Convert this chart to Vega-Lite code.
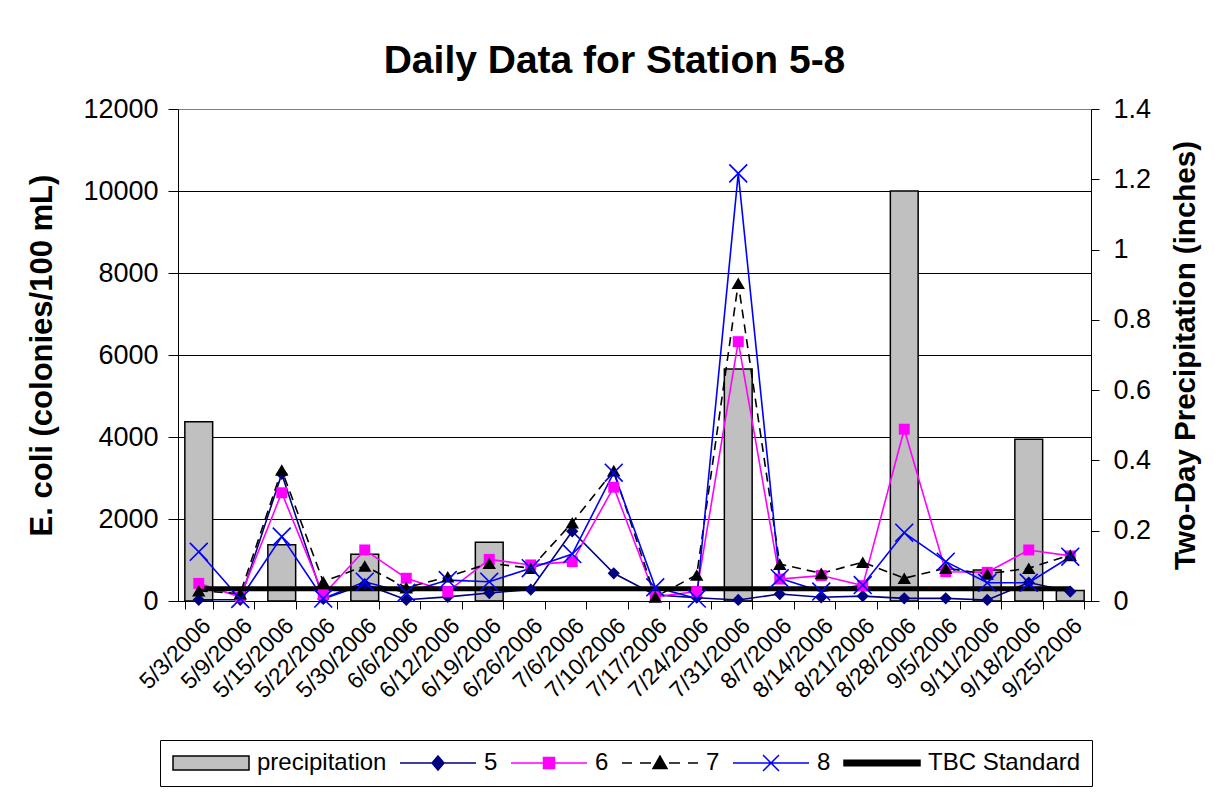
{
  "$schema": "https://vega.github.io/schema/vega-lite/v6.json",
  "width": 913,
  "height": 492,
  "autosize": {"type": "none"},
  "padding": {"left": 178, "top": 109, "right": 124, "bottom": 205},
  "background": "white",
  "title": {"text": "Daily Data for Station 5-8", "fontSize": 39, "fontWeight": "bold", "font": "Liberation Sans", "color": "black", "anchor": "middle", "dx": -20, "offset": 14},
  "config": {
    "font": "Liberation Sans",
    "view": {"stroke": null},
    "axis": {"labelFont": "Liberation Sans", "titleFont": "Liberation Sans", "labelColor": "black", "titleColor": "black", "domainColor": "black", "tickColor": "black", "gridColor": "black", "domainWidth": 1, "tickWidth": 1, "gridWidth": 1, "titleFontWeight": "bold"}
  },
  "datasets": {
    "ecoli": [
      {"date": "5/3/2006", "series": "5", "ecoli": 30}, {"date": "5/9/2006", "series": "5", "ecoli": 30}, {"date": "5/15/2006", "series": "5", "ecoli": 3100}, {"date": "5/22/2006", "series": "5", "ecoli": 50}, {"date": "5/30/2006", "series": "5", "ecoli": 410}, {"date": "6/6/2006", "series": "5", "ecoli": 30}, {"date": "6/12/2006", "series": "5", "ecoli": 100}, {"date": "6/19/2006", "series": "5", "ecoli": 195}, {"date": "6/26/2006", "series": "5", "ecoli": 280}, {"date": "7/6/2006", "series": "5", "ecoli": 1700}, {"date": "7/10/2006", "series": "5", "ecoli": 675}, {"date": "7/17/2006", "series": "5", "ecoli": 150}, {"date": "7/24/2006", "series": "5", "ecoli": 80}, {"date": "7/31/2006", "series": "5", "ecoli": 25}, {"date": "8/7/2006", "series": "5", "ecoli": 170}, {"date": "8/14/2006", "series": "5", "ecoli": 90}, {"date": "8/21/2006", "series": "5", "ecoli": 120}, {"date": "8/28/2006", "series": "5", "ecoli": 65}, {"date": "9/5/2006", "series": "5", "ecoli": 65}, {"date": "9/11/2006", "series": "5", "ecoli": 25}, {"date": "9/18/2006", "series": "5", "ecoli": 450}, {"date": "9/25/2006", "series": "5", "ecoli": 230},
      {"date": "5/3/2006", "series": "6", "ecoli": 430}, {"date": "5/9/2006", "series": "6", "ecoli": 100}, {"date": "5/15/2006", "series": "6", "ecoli": 2640}, {"date": "5/22/2006", "series": "6", "ecoli": 150}, {"date": "5/30/2006", "series": "6", "ecoli": 1245}, {"date": "6/6/2006", "series": "6", "ecoli": 555}, {"date": "6/12/2006", "series": "6", "ecoli": 230}, {"date": "6/19/2006", "series": "6", "ecoli": 1015}, {"date": "6/26/2006", "series": "6", "ecoli": 880}, {"date": "7/6/2006", "series": "6", "ecoli": 960}, {"date": "7/10/2006", "series": "6", "ecoli": 2775}, {"date": "7/17/2006", "series": "6", "ecoli": 105}, {"date": "7/24/2006", "series": "6", "ecoli": 230}, {"date": "7/31/2006", "series": "6", "ecoli": 6325}, {"date": "8/7/2006", "series": "6", "ecoli": 535}, {"date": "8/14/2006", "series": "6", "ecoli": 620}, {"date": "8/21/2006", "series": "6", "ecoli": 375}, {"date": "8/28/2006", "series": "6", "ecoli": 4190}, {"date": "9/5/2006", "series": "6", "ecoli": 715}, {"date": "9/11/2006", "series": "6", "ecoli": 700}, {"date": "9/18/2006", "series": "6", "ecoli": 1245}, {"date": "9/25/2006", "series": "6", "ecoli": 1100},
      {"date": "5/3/2006", "series": "7", "ecoli": 250}, {"date": "5/9/2006", "series": "7", "ecoli": 180}, {"date": "5/15/2006", "series": "7", "ecoli": 3195}, {"date": "5/22/2006", "series": "7", "ecoli": 470}, {"date": "5/30/2006", "series": "7", "ecoli": 855}, {"date": "6/6/2006", "series": "7", "ecoli": 325}, {"date": "6/12/2006", "series": "7", "ecoli": 590}, {"date": "6/19/2006", "series": "7", "ecoli": 920}, {"date": "6/26/2006", "series": "7", "ecoli": 800}, {"date": "7/6/2006", "series": "7", "ecoli": 1910}, {"date": "7/10/2006", "series": "7", "ecoli": 3180}, {"date": "7/17/2006", "series": "7", "ecoli": 100}, {"date": "7/24/2006", "series": "7", "ecoli": 635}, {"date": "7/31/2006", "series": "7", "ecoli": 7750}, {"date": "8/7/2006", "series": "7", "ecoli": 900}, {"date": "8/14/2006", "series": "7", "ecoli": 675}, {"date": "8/21/2006", "series": "7", "ecoli": 945}, {"date": "8/28/2006", "series": "7", "ecoli": 555}, {"date": "9/5/2006", "series": "7", "ecoli": 800}, {"date": "9/11/2006", "series": "7", "ecoli": 660}, {"date": "9/18/2006", "series": "7", "ecoli": 800}, {"date": "9/25/2006", "series": "7", "ecoli": 1120},
      {"date": "5/3/2006", "series": "8", "ecoli": 1200}, {"date": "5/9/2006", "series": "8", "ecoli": 50}, {"date": "5/15/2006", "series": "8", "ecoli": 1570}, {"date": "5/22/2006", "series": "8", "ecoli": 60}, {"date": "5/30/2006", "series": "8", "ecoli": 470}, {"date": "6/6/2006", "series": "8", "ecoli": 200}, {"date": "6/12/2006", "series": "8", "ecoli": 510}, {"date": "6/19/2006", "series": "8", "ecoli": 470}, {"date": "6/26/2006", "series": "8", "ecoli": 800}, {"date": "7/6/2006", "series": "8", "ecoli": 1145}, {"date": "7/10/2006", "series": "8", "ecoli": 3130}, {"date": "7/17/2006", "series": "8", "ecoli": 335}, {"date": "7/24/2006", "series": "8", "ecoli": 60}, {"date": "7/31/2006", "series": "8", "ecoli": 10430}, {"date": "8/7/2006", "series": "8", "ecoli": 555}, {"date": "8/14/2006", "series": "8", "ecoli": 230}, {"date": "8/21/2006", "series": "8", "ecoli": 390}, {"date": "8/28/2006", "series": "8", "ecoli": 1665}, {"date": "9/5/2006", "series": "8", "ecoli": 960}, {"date": "9/11/2006", "series": "8", "ecoli": 445}, {"date": "9/18/2006", "series": "8", "ecoli": 445}, {"date": "9/25/2006", "series": "8", "ecoli": 1080}
    ],
    "tbc": [
      {"date": "5/3/2006", "tbc": 300}, {"date": "5/9/2006", "tbc": 300}, {"date": "5/15/2006", "tbc": 300}, {"date": "5/22/2006", "tbc": 300}, {"date": "5/30/2006", "tbc": 300}, {"date": "6/6/2006", "tbc": 300}, {"date": "6/12/2006", "tbc": 300}, {"date": "6/19/2006", "tbc": 300}, {"date": "6/26/2006", "tbc": 300}, {"date": "7/6/2006", "tbc": 300}, {"date": "7/10/2006", "tbc": 300}, {"date": "7/17/2006", "tbc": 300}, {"date": "7/24/2006", "tbc": 300}, {"date": "7/31/2006", "tbc": 300}, {"date": "8/7/2006", "tbc": 300}, {"date": "8/14/2006", "tbc": 300}, {"date": "8/21/2006", "tbc": 300}, {"date": "8/28/2006", "tbc": 300}, {"date": "9/5/2006", "tbc": 300}, {"date": "9/11/2006", "tbc": 300}, {"date": "9/18/2006", "tbc": 300}, {"date": "9/25/2006", "tbc": 300}
    ],
    "precip": [
      {"date": "5/3/2006", "precip": 0.51}, {"date": "5/15/2006", "precip": 0.16}, {"date": "5/30/2006", "precip": 0.133}, {"date": "6/19/2006", "precip": 0.167}, {"date": "7/31/2006", "precip": 0.66}, {"date": "8/28/2006", "precip": 1.167}, {"date": "9/11/2006", "precip": 0.088}, {"date": "9/18/2006", "precip": 0.46}, {"date": "9/25/2006", "precip": 0.03}
    ]
  },
  "layer": [
    {
      "data": {"name": "precip"},
      "mark": {"type": "bar", "fill": "#c0c0c0", "stroke": "black", "strokeWidth": 1.5},
      "encoding": {
        "x": {"field": "date", "type": "ordinal", "title": null,
              "scale": {"type": "band", "domain": ["5/3/2006","5/9/2006","5/15/2006","5/22/2006","5/30/2006","6/6/2006","6/12/2006","6/19/2006","6/26/2006","7/6/2006","7/10/2006","7/17/2006","7/24/2006","7/31/2006","8/7/2006","8/14/2006","8/21/2006","8/28/2006","9/5/2006","9/11/2006","9/18/2006","9/25/2006"], "paddingInner": 0.33, "paddingOuter": 0.165},
              "axis": {"labelAngle": -45, "labelFontSize": 23, "labelPadding": 5, "tickBand": "extent", "tickSize": 8, "domain": true, "grid": false}},
        "y": {"field": "precip", "type": "quantitative", "scale": {"domain": [0, 1.4], "nice": false},
              "axis": {"orient": "right", "title": "Two-Day Precipitation (inches)", "titleFontSize": 29.5, "titleAngle": 270, "titlePadding": 50, "labelFontSize": 27, "labelPadding": 14, "tickSize": 8, "values": [0, 0.2, 0.4, 0.6, 0.8, 1, 1.2, 1.4], "format": "~g", "grid": false}}
      }
    },
    {
      "layer": [
        {
          "data": {"name": "ecoli"},
          "transform": [{"filter": "datum.series === '5'"}],
          "mark": {"type": "line", "color": "#000080", "strokeWidth": 1.6},
          "encoding": {
            "x": {"field": "date", "type": "ordinal", "title": null},
            "y": {"field": "ecoli", "type": "quantitative", "scale": {"domain": [0, 12000], "nice": false}, "title": "E. coli (colonies/100 mL)", "axis": {"orient": "left", "titleFontSize": 31, "titlePadding": 24, "labelFontSize": 27, "labelPadding": 10, "tickSize": 10, "values": [0, 2000, 4000, 6000, 8000, 10000, 12000], "format": "d", "grid": true, "gridColor": {"condition": {"test": "datum.value === 12000", "value": "#808080"}, "value": "black"}}}
          }
        },
        {
          "data": {"name": "ecoli"},
          "transform": [{"filter": "datum.series === '6'"}],
          "mark": {"type": "line", "color": "#ff00ff", "strokeWidth": 1.6},
          "encoding": {"x": {"field": "date", "type": "ordinal", "title": null}, "y": {"field": "ecoli", "type": "quantitative", "title": "E. coli (colonies/100 mL)", "axis": {"orient": "left", "titleFontSize": 31, "titlePadding": 24, "labelFontSize": 27, "labelPadding": 10, "tickSize": 10, "values": [0, 2000, 4000, 6000, 8000, 10000, 12000], "format": "d", "grid": true, "gridColor": {"condition": {"test": "datum.value === 12000", "value": "#808080"}, "value": "black"}}}}
        },
        {
          "data": {"name": "ecoli"},
          "transform": [{"filter": "datum.series === '7'"}],
          "mark": {"type": "line", "color": "#000000", "strokeWidth": 1.6, "strokeDash": [9, 6]},
          "encoding": {"x": {"field": "date", "type": "ordinal", "title": null}, "y": {"field": "ecoli", "type": "quantitative", "title": "E. coli (colonies/100 mL)", "axis": {"orient": "left", "titleFontSize": 31, "titlePadding": 24, "labelFontSize": 27, "labelPadding": 10, "tickSize": 10, "values": [0, 2000, 4000, 6000, 8000, 10000, 12000], "format": "d", "grid": true, "gridColor": {"condition": {"test": "datum.value === 12000", "value": "#808080"}, "value": "black"}}}}
        },
        {
          "data": {"name": "ecoli"},
          "transform": [{"filter": "datum.series === '8'"}],
          "mark": {"type": "line", "color": "#0000ff", "strokeWidth": 1.6},
          "encoding": {"x": {"field": "date", "type": "ordinal", "title": null}, "y": {"field": "ecoli", "type": "quantitative", "title": "E. coli (colonies/100 mL)", "axis": {"orient": "left", "titleFontSize": 31, "titlePadding": 24, "labelFontSize": 27, "labelPadding": 10, "tickSize": 10, "values": [0, 2000, 4000, 6000, 8000, 10000, 12000], "format": "d", "grid": true, "gridColor": {"condition": {"test": "datum.value === 12000", "value": "#808080"}, "value": "black"}}}}
        },
        {
          "data": {"name": "tbc"},
          "mark": {"type": "line", "color": "#000000", "strokeWidth": 5},
          "encoding": {"x": {"field": "date", "type": "ordinal", "title": null}, "y": {"field": "tbc", "type": "quantitative", "title": "E. coli (colonies/100 mL)", "axis": {"orient": "left", "titleFontSize": 31, "titlePadding": 24, "labelFontSize": 27, "labelPadding": 10, "tickSize": 10, "values": [0, 2000, 4000, 6000, 8000, 10000, 12000], "format": "d", "grid": true, "gridColor": {"condition": {"test": "datum.value === 12000", "value": "#808080"}, "value": "black"}}}}
        },
        {
          "data": {"name": "ecoli"},
          "transform": [{"filter": "datum.series === '5'"}],
          "mark": {"type": "point", "shape": "diamond", "filled": true, "color": "#000080", "size": 150, "opacity": 1},
          "encoding": {"x": {"field": "date", "type": "ordinal", "title": null}, "y": {"field": "ecoli", "type": "quantitative", "title": "E. coli (colonies/100 mL)", "axis": {"orient": "left", "titleFontSize": 31, "titlePadding": 24, "labelFontSize": 27, "labelPadding": 10, "tickSize": 10, "values": [0, 2000, 4000, 6000, 8000, 10000, 12000], "format": "d", "grid": true, "gridColor": {"condition": {"test": "datum.value === 12000", "value": "#808080"}, "value": "black"}}}}
        },
        {
          "data": {"name": "ecoli"},
          "transform": [{"filter": "datum.series === '6'"}],
          "mark": {"type": "point", "shape": "square", "filled": true, "color": "#ff00ff", "size": 120, "opacity": 1},
          "encoding": {"x": {"field": "date", "type": "ordinal", "title": null}, "y": {"field": "ecoli", "type": "quantitative", "title": "E. coli (colonies/100 mL)", "axis": {"orient": "left", "titleFontSize": 31, "titlePadding": 24, "labelFontSize": 27, "labelPadding": 10, "tickSize": 10, "values": [0, 2000, 4000, 6000, 8000, 10000, 12000], "format": "d", "grid": true, "gridColor": {"condition": {"test": "datum.value === 12000", "value": "#808080"}, "value": "black"}}}}
        },
        {
          "data": {"name": "ecoli"},
          "transform": [{"filter": "datum.series === '7'"}],
          "mark": {"type": "point", "shape": "triangle-up", "filled": true, "color": "#000000", "size": 180, "opacity": 1},
          "encoding": {"x": {"field": "date", "type": "ordinal", "title": null}, "y": {"field": "ecoli", "type": "quantitative", "title": "E. coli (colonies/100 mL)", "axis": {"orient": "left", "titleFontSize": 31, "titlePadding": 24, "labelFontSize": 27, "labelPadding": 10, "tickSize": 10, "values": [0, 2000, 4000, 6000, 8000, 10000, 12000], "format": "d", "grid": true, "gridColor": {"condition": {"test": "datum.value === 12000", "value": "#808080"}, "value": "black"}}}}
        },
        {
          "data": {"name": "ecoli"},
          "transform": [{"filter": "datum.series === '8'"}],
          "mark": {"type": "point", "shape": "M-1,-1L1,1M-1,1L1,-1", "filled": false, "stroke": "#0000ff", "strokeWidth": 1.6, "size": 320, "opacity": 1},
          "encoding": {"x": {"field": "date", "type": "ordinal", "title": null}, "y": {"field": "ecoli", "type": "quantitative", "title": "E. coli (colonies/100 mL)", "axis": {"orient": "left", "titleFontSize": 31, "titlePadding": 24, "labelFontSize": 27, "labelPadding": 10, "tickSize": 10, "values": [0, 2000, 4000, 6000, 8000, 10000, 12000], "format": "d", "grid": true, "gridColor": {"condition": {"test": "datum.value === 12000", "value": "#808080"}, "value": "black"}}}}
        },
        {
          "data": {"name": "ecoli"},
          "mark": {"type": "point", "filled": true, "opacity": 0},
          "encoding": {
            "x": {"field": "date", "type": "ordinal", "title": null},
            "y": {"field": "ecoli", "type": "quantitative", "title": "E. coli (colonies/100 mL)", "axis": {"orient": "left", "titleFontSize": 31, "titlePadding": 24, "labelFontSize": 27, "labelPadding": 10, "tickSize": 10, "values": [0, 2000, 4000, 6000, 8000, 10000, 12000], "format": "d", "grid": true, "gridColor": {"condition": {"test": "datum.value === 12000", "value": "#808080"}, "value": "black"}}},
            "color": {"field": "series", "type": "nominal",
              "scale": {"domain": ["precipitation", "5", "6", "7", "8", "TBC Standard"], "range": ["#c0c0c0", "#000080", "#ff00ff", "#000000", "#0000ff", "#000000"]},
              "legend": {"title": null, "orient": "none", "legendX": -18, "legendY": 631, "direction": "horizontal", "columns": 6, "labelFontSize": 24, "labelFont": "Liberation Sans", "labelColor": "black", "labelLimit": 400, "labelOffset": 62, "columnPadding": 10, "symbolSize": 400, "symbolOffset": 0, "symbolStrokeWidth": 1.5, "strokeColor": "black", "padding": 11,
                "encode": {"symbols": {"update": {
                  "opacity": {"value": 1},
                  "fill": {"signal": "datum.value === 'precipitation' ? '#c0c0c0' : datum.value === '5' ? '#000080' : datum.value === '6' ? '#ff00ff' : datum.value === '8' ? 'transparent' : '#000000'"},
                  "stroke": {"signal": "datum.value === 'precipitation' ? '#000000' : datum.value === '5' ? '#000080' : datum.value === '6' ? '#ff00ff' : datum.value === '8' ? '#0000ff' : '#000000'"}
                }}}}},
            "shape": {"field": "series", "type": "nominal",
              "scale": {"domain": ["precipitation", "5", "6", "7", "8", "TBC Standard"], "range": [
                "M-1,-0.7H6.6V0.7H-1Z",
                "M-1,0H6.6M2.8,-0.7L3.4,0L2.8,0.7L2.2,0Z",
                "M-1,0H6.6M2.25,-0.55H3.35V0.55H2.25Z",
                "M-1,0H0M0.8,0H1.9M3.7,0H4.8M5.6,0H6.6M2.8,-0.7L3.5,0.55H2.1Z",
                "M-1,0H6.6M2,-0.8L3.6,0.8M2,0.8L3.6,-0.8",
                "M-1,-0.28H6.6V0.28H-1Z"]},
              "legend": {"title": null, "orient": "none", "legendX": -18, "legendY": 631, "direction": "horizontal", "columns": 6, "labelFontSize": 24, "labelFont": "Liberation Sans", "labelColor": "black", "labelLimit": 400, "labelOffset": 62, "columnPadding": 10, "symbolSize": 400, "symbolOffset": 0, "symbolStrokeWidth": 1.5, "strokeColor": "black", "padding": 11,
                "encode": {"symbols": {"update": {
                  "opacity": {"value": 1},
                  "fill": {"signal": "datum.value === 'precipitation' ? '#c0c0c0' : datum.value === '5' ? '#000080' : datum.value === '6' ? '#ff00ff' : datum.value === '8' ? 'transparent' : '#000000'"},
                  "stroke": {"signal": "datum.value === 'precipitation' ? '#000000' : datum.value === '5' ? '#000080' : datum.value === '6' ? '#ff00ff' : datum.value === '8' ? '#0000ff' : '#000000'"}
                }}}}}
          }
        }
      ]
    }
  ],
  "resolve": {"scale": {"y": "independent"}, "axis": {"y": "independent"}}
}
